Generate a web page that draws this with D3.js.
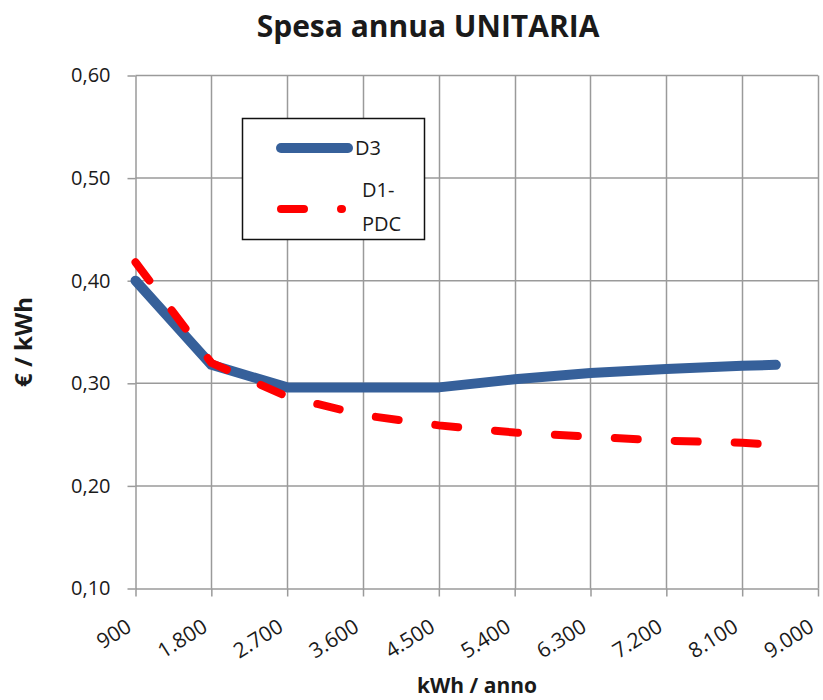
<!DOCTYPE html>
<html>
<head>
<meta charset="utf-8">
<script src="https://cdn.jsdelivr.net/npm/d3@7"></script>
<style>
  body { margin: 0; background: #fff; }
  text { font-family: "Open Sans", sans-serif; fill: #1a1a1a; }
</style>
</head>
<body>
<svg width="823" height="700"></svg>
<script>
// values
var kwh = [900, 1800, 2700, 3600, 4500, 5400, 6300, 7200, 8100, 8500];
var d3Vals = [0.400, 0.318, 0.296, 0.296, 0.296, 0.304, 0.310, 0.314, 0.317, 0.318];
var d1pdcVals = [0.418, 0.320, 0.287, 0.269, 0.259, 0.252, 0.248, 0.244, 0.242, 0.240];
var xTicks = [900, 1800, 2700, 3600, 4500, 5400, 6300, 7200, 8100, 9000];
var yTicks = [0.10, 0.20, 0.30, 0.40, 0.50, 0.60];
var seriesNames = ["D3", "D1-PDC"];

var svg = d3.select("svg");

var it = d3.formatLocale({decimal: ",", thousands: ".", grouping: [3], currency: ["€", ""]});
var fmtX = it.format(",d"),
    fmtY = it.format(".2f");

var x = d3.scaleLinear().domain([900, 9000]).range([135.5, 818]);
var y = d3.scaleLinear().domain([0.1, 0.6]).range([588.5, 75.5]);

var grid = "#9a9a9a";

// gridlines
svg.append("g").selectAll("line.v")
    .data(xTicks.slice(1))
    .enter().append("line")
    .attr("x1", d => Math.round(x(d)) + 0.5).attr("x2", d => Math.round(x(d)) + 0.5)
    .attr("y1", y(0.6)).attr("y2", y(0.1))
    .style("stroke", grid).style("stroke-width", 1.5);

svg.append("g").selectAll("line.h")
    .data(yTicks.slice(1))
    .enter().append("line")
    .attr("x1", x(900)).attr("x2", x(9000))
    .attr("y1", d => y(d)).attr("y2", d => y(d))
    .style("stroke", grid).style("stroke-width", 1.5);

// axes
var xAxis = svg.append("g")
    .attr("transform", "translate(0," + y(0.1) + ")")
    .call(d3.axisBottom(x).tickValues(xTicks).tickFormat(fmtX).tickSize(8).tickSizeOuter(0));
xAxis.select(".domain").style("stroke", grid).style("stroke-width", 1.5);
xAxis.selectAll(".tick line").style("stroke", grid).style("stroke-width", 1.5);
xAxis.selectAll(".tick text")
    .style("font-size", "21px")
    .attr("text-anchor", "end")
    .attr("dy", null)
    .attr("y", 0)
    .attr("transform", "translate(-3,42) rotate(-32)");

var yAxis = svg.append("g")
    .attr("transform", "translate(" + x(900) + ",0)")
    .call(d3.axisLeft(y).tickValues(yTicks).tickFormat(fmtY).tickSize(8).tickSizeOuter(0).tickPadding(17));
yAxis.select(".domain").style("stroke", grid).style("stroke-width", 1.5);
yAxis.selectAll(".tick line").style("stroke", grid).style("stroke-width", 1.5);
yAxis.selectAll(".tick text").style("font-size", "20px");

// lines
var line = d3.line()
    .x((d, i) => x(kwh[i]))
    .y(d => y(d));

svg.append("path")
    .datum(d3Vals)
    .attr("d", line)
    .style("fill", "none")
    .style("stroke", "#36609a")
    .style("stroke-width", 10)
    .style("stroke-linecap", "round")
    .style("stroke-linejoin", "round");

svg.append("path")
    .datum(d1pdcVals)
    .attr("d", line)
    .style("fill", "none")
    .style("stroke", "#ff0000")
    .style("stroke-width", 8)
    .style("stroke-dasharray", "23,37")
    .style("stroke-linecap", "round");

// legend
var lg = svg.append("g");
lg.append("rect")
    .attr("x", 242.5).attr("y", 118.5).attr("width", 182).attr("height", 121)
    .style("fill", "#fff").style("stroke", "#111").style("stroke-width", 1.5);
lg.append("line")
    .attr("x1", 281).attr("x2", 348).attr("y1", 148).attr("y2", 148)
    .style("stroke", "#36609a").style("stroke-width", 10).style("stroke-linecap", "round");
lg.append("text").attr("x", 355).attr("y", 155).style("font-size", "20px").text(seriesNames[0]);
lg.append("line")
    .attr("x1", 281).attr("x2", 342).attr("y1", 209).attr("y2", 209)
    .style("stroke", "#ff0000").style("stroke-width", 8)
    .style("stroke-dasharray", "23,37").style("stroke-linecap", "round");
lg.append("text").attr("x", 362).attr("y", 197).style("font-size", "20px").text("D1-");
lg.append("text").attr("x", 362).attr("y", 231).style("font-size", "20px").text("PDC");

// titles
svg.append("text")
    .attr("x", 428).attr("y", 37)
    .attr("text-anchor", "middle")
    .style("font-size", "30px").style("font-weight", "bold")
    .text("Spesa annua UNITARIA");

svg.append("text")
    .attr("transform", "translate(32,342) rotate(-90)")
    .attr("text-anchor", "middle")
    .style("font-size", "24px").style("font-weight", "bold")
    .text("€ / kWh");

svg.append("text")
    .attr("x", 477).attr("y", 693)
    .attr("text-anchor", "middle")
    .style("font-size", "21px").style("font-weight", "bold")
    .text("kWh / anno");
</script>
</body>
</html>
